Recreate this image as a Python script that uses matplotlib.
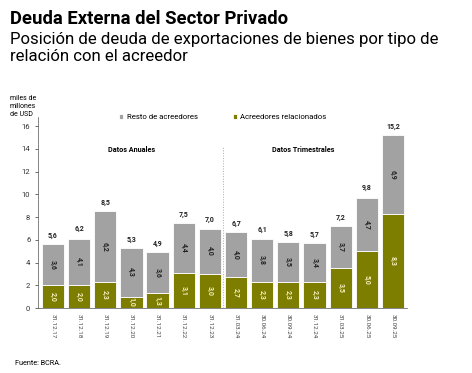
import matplotlib.pyplot as plt
import numpy as np

plt.rcParams['font.family'] = ['Roboto', 'DejaVu Sans']

# === datos
fechas = ["31.12.17", "31.12.18", "31.12.19", "31.12.20", "31.12.21", "31.12.22", "31.12.23",
          "31.03.24", "30.06.24", "30.09.24", "31.12.24", "31.03.25", "30.06.25", "30.09.25"]
relacionados = [2.0, 2.0, 2.3, 1.0, 1.3, 3.1, 3.0, 2.7, 2.3, 2.3, 2.3, 3.5, 5.0, 8.3]
resto = [3.6, 4.1, 6.2, 4.3, 3.6, 4.4, 4.0, 4.0, 3.8, 3.5, 3.4, 3.7, 4.7, 6.9]
totales = [5.6, 6.2, 8.5, 5.3, 4.9, 7.5, 7.0, 6.7, 6.1, 5.8, 5.7, 7.2, 9.8, 15.2]

verde = "#7d7d00"
gris = "#a2a2a2"

def fmt(v):
    return f"{v:.1f}".replace(".", ",")

fig = plt.figure(figsize=(4.72, 3.73), dpi=100, facecolor="white")
ax = fig.add_axes([0.0805, 0.174, 0.782, 0.512])

x = np.arange(len(fechas))
ax.bar(x, relacionados, width=0.85, color=verde, edgecolor="white", linewidth=0.6,
       label="Acreedores relacionados", zorder=2)
ax.bar(x, resto, width=0.85, bottom=relacionados, color=gris, edgecolor="white", linewidth=0.6,
       label="Resto de acreedores", zorder=2)

for i in range(len(fechas)):
    ax.text(x[i], relacionados[i] / 2, fmt(relacionados[i]), rotation=270, ha="center", va="center",
            fontsize=5, fontweight="bold", color="#f4f0c0", zorder=3)
    ax.text(x[i], relacionados[i] + resto[i] / 2, fmt(resto[i]), rotation=270, ha="center", va="center",
            fontsize=5, fontweight="bold", color="#222222", zorder=3)
    ax.text(x[i], totales[i] + 0.4, fmt(totales[i]), ha="center", va="bottom",
            fontsize=5, fontweight="bold", color="#222222")

ax.axvline(6.5, color="#aaaaaa", linestyle=":", linewidth=0.7, ymax=0.85)
ax.text(3.0, 13.9, "Datos Anuales", ha="center", va="center", fontsize=5.2, fontweight="bold")
ax.text(9.56, 13.9, "Datos Trimestrales", ha="center", va="center", fontsize=5.2, fontweight="bold")

ax.set_xlim(-0.57, 13.54)
ax.set_ylim(0, 16.8)
ax.set_yticks(range(0, 17, 2))
ax.set_xticks(x)
ax.set_xticklabels(fechas, rotation=270, fontsize=4.5, ha="center", va="top")
ax.tick_params(axis="y", labelsize=5.5, length=2, width=0.5, colors="#333333")
ax.tick_params(axis="x", length=0, pad=4, colors="#444444")
for s in ["top", "right"]:
    ax.spines[s].set_visible(False)
ax.spines["left"].set_linewidth(0.5)
ax.spines["bottom"].set_linewidth(0.5)
ax.spines["left"].set_color("#555555")
ax.spines["bottom"].set_color("#555555")

h, l = ax.get_legend_handles_labels()
ax.legend(h[::-1], l[::-1], loc="center left", bbox_to_anchor=(0.2, 1.0), ncol=2, frameon=False,
          fontsize=5.6, handlelength=0.6, handleheight=0.6, columnspacing=4.5, handletextpad=0.4)

fig.text(0.021, 0.972, "Deuda Externa del Sector Privado", fontsize=13.3, fontweight="bold", va="top")
fig.text(0.021, 0.915, "Posición de deuda de exportaciones de bienes por tipo de\nrelación con el acreedor",
         fontsize=12.1, va="top", linespacing=1.2)
fig.text(0.021, 0.745, "miles de\nmillones\nde USD", fontsize=5, va="top", linespacing=1.15)
fig.text(0.032, 0.015, "Fuente: BCRA.", fontsize=5.2, va="bottom")

plt.savefig("out.png", dpi=100, facecolor="white")
